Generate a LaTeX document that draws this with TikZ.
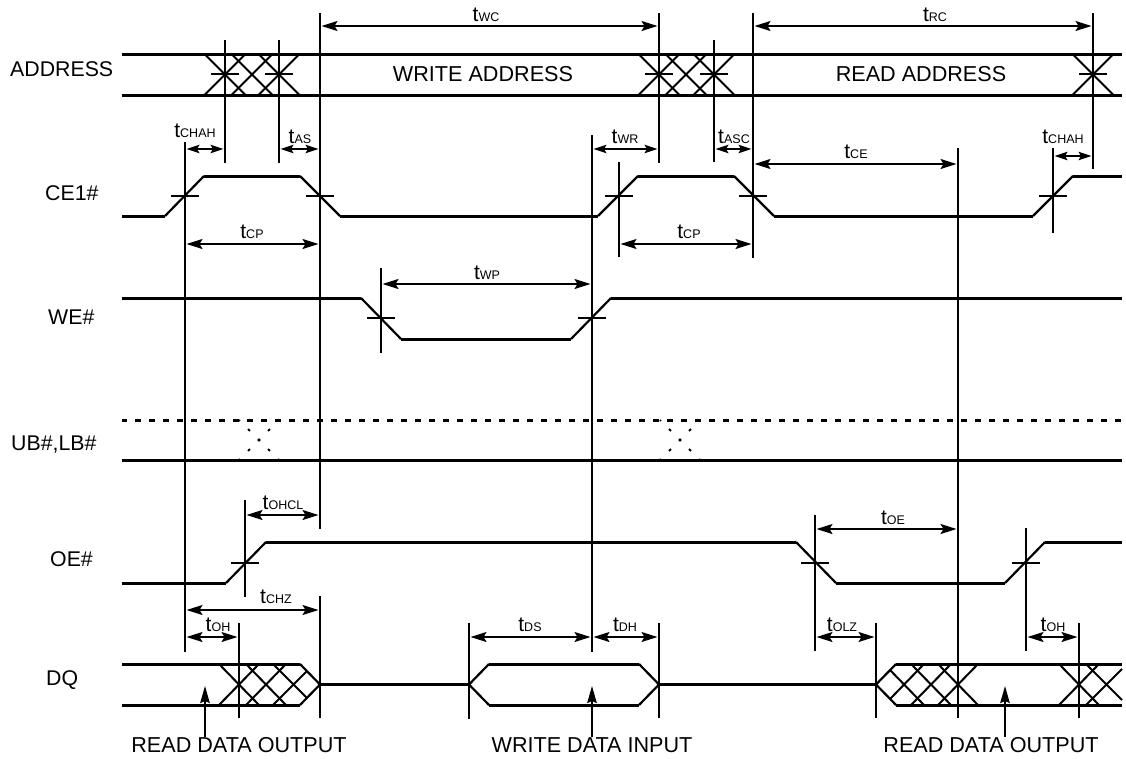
\documentclass[tikz,border=0pt]{standalone}
\usepackage{fontspec}
\setmainfont{Liberation Sans}
\usepackage{tikz}
\usetikzlibrary{arrows.meta}

\newcommand{\tsub}[1]{t{\fontsize{12.5}{12.5}\selectfont #1}}

\begin{document}
\begin{tikzpicture}[
    x=1pt, y=-1pt,
    wave/.style={line width=3pt},
    slope/.style={line width=2.2pt},
    guide/.style={line width=2pt},
    cross/.style={line width=2pt},
    tick/.style={line width=1.6pt},
    dim/.style={<->, >={Stealth[length=16pt, width=10pt, inset=3pt]}, line width=1.6pt,
                shorten <=1.5pt, shorten >=1.5pt},
    dimshort/.style={dim, >={Stealth[length=13pt, width=8.5pt, inset=2.5pt]}},
    point/.style={->, >={Stealth[length=17pt, width=9.5pt, inset=2pt]}, line width=1.6pt},
    fog/.style={line width=2pt, dash pattern=on 2.5pt off 11.64pt, dash phase=1.25pt},
    signame/.style={anchor=base west, inner sep=0pt, font=\fontsize{21.3}{21.3}\selectfont},
    caption/.style={font=\fontsize{21.6}{21.6}\selectfont, inner sep=0pt},
    tlab/.style={font=\fontsize{21}{21}\selectfont, inner sep=0pt}
]
\useasboundingbox (0,0) rectangle (1126,758);

% signal names
\node[signame] (saddr) at (10,76.7) {ADDRESS};
\node[signame] (sce) at (45,200.7) {CE1\#};
\node[signame] (swe) at (48,324) {WE\#};
\node[signame] (sub) at (11,450) {UB\#,LB\#};
\node[signame] (soe) at (50,566.7) {OE\#};
\node[signame] (sdq) at (46,685.7) {DQ};

% ADDRESS
\draw[wave] (122,54) -- (1122,54) (122,95) -- (1122,95);
\foreach \c in {225,252,279,659,686,714,1093}
  \draw[cross] ({\c-20.5},54) -- ({\c+20.5},95) ({\c-20.5},95) -- ({\c+20.5},54);
\node[caption] (waddr) at (483,74) {WRITE ADDRESS};
\node[caption] (raddr) at (921,74) {READ ADDRESS};

% CE1#
\draw[wave] (122,216) -- (165,216) (204,176) -- (300,176) (340,216) -- (598,216)
  (638,176) -- (734,176) (774,216) -- (1033,216) (1073,176) -- (1122,176);
\draw[slope] (165,216) -- (204,176) (300,176) -- (340,216) (598,216) -- (638,176)
  (734,176) -- (774,216) (1033,216) -- (1073,176);

% WE#
\draw[wave] (122,298) -- (361,298) (401,339) -- (571,339) (611,298) -- (1122,298);
\draw[slope] (361,298) -- (401,339) (571,339) -- (611,298);

% UB#,LB#
\draw[wave, dash pattern=on 6pt off 8pt, dash phase=1pt] (122,420) -- (1122,420);
\draw[wave] (122,460) -- (1122,460);
\foreach \c in {259,680}
  \draw[fog] ({\c-20},420) -- ({\c+20},460) ({\c-20},460) -- ({\c+20},420);

% OE#
\draw[wave] (122,583) -- (226,583) (266,542) -- (796,542) (836,583) -- (1005,583) (1045,542) -- (1122,542);
\draw[slope] (226,583) -- (266,542) (796,542) -- (836,583) (1005,583) -- (1045,542);

% DQ
\draw[wave] (122,664) -- (300,664) (122,705) -- (300,705) (320,684.5) -- (469,684.5)
  (489,664) -- (639,664) (489,705) -- (639,705) (659,684.5) -- (876,684.5)
  (896,664) -- (1122,664) (896,705) -- (1122,705);
\draw[slope] (300,664) -- (320,684.5) -- (300,705) (489,664) -- (469,684.5) -- (489,705)
  (639,664) -- (659,684.5) -- (639,705) (896,664) -- (876,684.5) -- (896,705);
\foreach \c in {239,266,931,958,1079}
  \draw[cross] ({\c-20},664) -- ({\c+20},705) ({\c-20},705) -- ({\c+20},664);
\draw[cross] (273,664) -- (307,698) (273,705) -- (307,671);
\draw[cross] (890,670) -- (924,705) (890,699) -- (924,664);
\draw[cross] (1086,664) -- (1122,700) (1086,705) -- (1122,669);

% guide lines
\foreach \n/\x/\a/\b in {ga/185/142/652, gb/225/40/163, gc/279/40/163, gd/320/13/529, gdd/320/596/718,
    ge/659/13/163, gf/714/40/162, gg/753/13/258, gh/1093/13/169, gi/619/162/257, gj/958/148/718,
    gk/1053/148/233, gl/381/268/353, gm/592/135/652, gn/245/500/597, go/815/515/651, gp/1026/528/651,
    gq/239/623/718, gr/469/623/719, gs/659/623/718, gt/876/623/718, gu/1079/623/718} {
  \coordinate (\n) at (\x,\a);
  \draw[guide] (\n) -- (\x,\b);
}

% ticks on the guides
\foreach \x/\y in {225/74, 279/74, 659/74, 714/74, 1093/74, 185/196, 320/196, 619/196, 753/196,
    1053/196, 381/318, 592/318, 245/563, 815/563, 1026/563}
  \draw[tick] ({\x-14},\y) -- ({\x+14},\y);

% timing arrows
\foreach \a/\b/\y in {gd/ge/26, gg/gh/26, ga/gd/244, gi/gg/244, gg/gj/164, gl/gm/284, gn/gd/515,
    go/gj/529, ga/gdd/610, ga/gq/637, gr/gm/637, gm/gs/637, go/gt/637, gp/gu/637}
  \draw[dim] (\a |- 0,\y) -- (\b |- 0,\y);
\foreach \a/\b/\y in {ga/gb/149, gc/gd/149, gm/ge/149, gf/gg/149, gk/gh/156}
  \draw[dimshort] (\a |- 0,\y) -- (\b |- 0,\y);

% timing labels
\node[tlab] (twc) at (486,15) {\tsub{WC}};
\node[tlab] (trc) at (935,15) {\tsub{RC}};
\node[tlab] (tchaha) at (195,131) {\tsub{CHAH}};
\node[tlab] (tas) at (300,137) {\tsub{AS}};
\node[tlab] (twr) at (625,137) {\tsub{WR}};
\node[tlab] (tasc) at (734,137) {\tsub{ASC}};
\node[tlab] (tce) at (856,152) {\tsub{CE}};
\node[tlab] (tchahb) at (1063,137) {\tsub{CHAH}};
\node[tlab] (tcpa) at (252,232) {\tsub{CP}};
\node[tlab] (tcpb) at (689,232) {\tsub{CP}};
\node[tlab] (twp) at (487,273) {\tsub{WP}};
\node[tlab] (tohcl) at (283,503) {\tsub{OHCL}};
\node[tlab] (toe) at (893,518) {\tsub{OE}};
\node[tlab] (tchz) at (276,597) {\tsub{CHZ}};
\node[tlab] (toha) at (218,625) {\tsub{OH}};
\node[tlab] (tds) at (530,625) {\tsub{DS}};
\node[tlab] (tdh) at (625,625) {\tsub{DH}};
\node[tlab] (tolz) at (842,625) {\tsub{OLZ}};
\node[tlab] (tohb) at (1053,625) {\tsub{OH}};

% data captions
\node[caption] (rdoa) at (239,745) {READ DATA OUTPUT};
\node[caption] (wdi) at (592,745) {WRITE DATA INPUT};
\node[caption] (rdob) at (991,745) {READ DATA OUTPUT};
\coordinate (pa) at (205,686);
\coordinate (pb) at (592,686);
\coordinate (pc) at (1005,686);
\draw[point] (pa |- rdoa.north) -- (pa);
\draw[point] (pb |- wdi.north) -- (pb);
\draw[point] (pc |- rdob.north) -- (pc);
\end{tikzpicture}
\end{document}
